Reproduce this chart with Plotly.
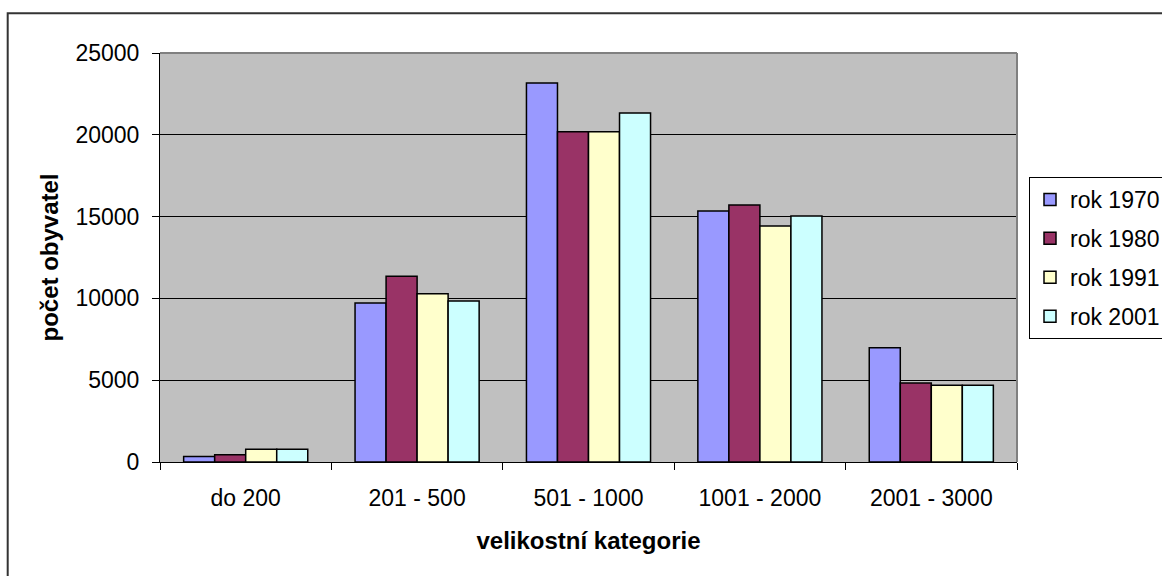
import plotly.graph_objects as go

categories = ["do 200", "201 - 500", "501 - 1000", "1001 - 2000", "2001 - 3000"]
series_names = ["rok 1970", "rok 1980", "rok 1991", "rok 2001"]
rok_1970 = [330, 9720, 23170, 15340, 6990]
rok_1980 = [450, 11350, 20190, 15710, 4830]
rok_1991 = [780, 10290, 20190, 14430, 4690]
rok_2001 = [780, 9840, 21330, 15040, 4690]
series_values = [rok_1970, rok_1980, rok_1991, rok_2001]
colors = ["#9999FF", "#993366", "#FFFFCC", "#CCFFFF"]
y_ticks = [0, 5000, 10000, 15000, 20000, 25000]

FONT = "Liberation Sans, Arial, sans-serif"
W, H = 1162, 576
L, R, T, B = 160, 145, 53, 114
pw, ph = W - L - R, H - T - B

def px_x(p):
    return (p - L) / pw

def px_y(p):
    return (H - B - p) / ph

fig = go.Figure()
for i, (name, vals, col) in enumerate(zip(series_names, series_values, colors)):
    fig.add_trace(go.Bar(
        x=categories, y=vals, name=name,
        marker=dict(color=col, line=dict(color="#000000", width=1.5)),
        legendgroup=f"g{i}",
    ))

fig.update_layout(
    width=W, height=H,
    margin=dict(l=L, r=R, t=T, b=B, autoexpand=False),
    paper_bgcolor="#FFFFFF",
    plot_bgcolor="#C0C0C0",
    barmode="group",
    bargap=0.276,
    bargroupgap=0,
    font=dict(family=FONT, size=23, color="#000000"),
    showlegend=True,
    legend=dict(
        x=px_x(1029), y=px_y(177), xanchor="left", yanchor="top",
        bgcolor="#FFFFFF", bordercolor="#000000", borderwidth=1,
        font=dict(family=FONT, size=23, color="#000000"),
        tracegroupgap=6,
        itemwidth=30,
    ),
    xaxis=dict(
        type="category",
        showline=True, linecolor="#000000", linewidth=1,
        ticks="outside", ticklen=7, tickcolor="#000000", tickwidth=1,
        tickson="boundaries",
        showgrid=False,
        tickfont=dict(family=FONT, size=23),
        ticklabelstandoff=15,
        title=dict(text="<b>velikostní kategorie</b>", font=dict(family=FONT, size=24), standoff=22),
    ),
    yaxis=dict(
        range=[0, 25000],
        tickvals=y_ticks,
        ticktext=[str(v) for v in y_ticks],
        showline=True, linecolor="#000000", linewidth=1,
        ticks="outside", ticklen=7, tickcolor="#000000", tickwidth=1,
        showgrid=True, gridcolor="#000000", gridwidth=1,
        zeroline=False,
        tickfont=dict(family=FONT, size=23),
        ticklabelstandoff=8,
        title=dict(text="<b>počet obyvatel</b>", font=dict(family=FONT, size=24), standoff=10),
    ),
    shapes=[
        dict(type="line", xref="paper", yref="paper", x0=0, x1=1, y0=1, y1=1,
             line=dict(color="#808080", width=2), layer="above"),
        dict(type="line", xref="paper", yref="paper", x0=1, x1=1, y0=0, y1=1,
             line=dict(color="#808080", width=2), layer="above"),
        dict(type="rect", xref="paper", yref="paper",
             x0=px_x(7.7), x1=px_x(1200), y0=px_y(600), y1=px_y(13.3),
             line=dict(color="#333333", width=2), fillcolor="rgba(0,0,0,0)", layer="above"),
    ],
)

fig.write_html(
    "out.html",
    config={"displayModeBar": False},
    post_script="document.body.style.margin='0';document.body.style.padding='0';",
)
